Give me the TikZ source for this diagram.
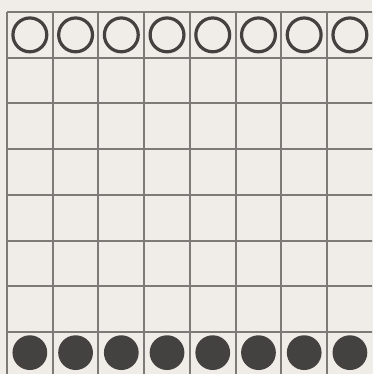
\documentclass[tikz,border=0pt]{standalone}
\usepackage{tikz}
\usetikzlibrary{backgrounds}
\definecolor{paperwhite}{RGB}{240,237,232}
\definecolor{gridgray}{RGB}{125,123,120}
\definecolor{stoneblack}{RGB}{68,66,64}

\begin{document}
\begin{tikzpicture}[
  x=1cm, y=1cm,
  gridline/.style={draw=gridgray, line width=1.2pt},
  whitestone/.style={circle, draw=stoneblack, line width=2pt, fill=paperwhite,
                     minimum size=7.4mm, inner sep=0pt},
  blackstone/.style={circle, fill=stoneblack, minimum size=7.6mm, inner sep=0pt}
]
% frame of the picture, grid cut at right and bottom
\fill[paperwhite] (-0.153,0.083) rectangle (7.987,8.263);
\useasboundingbox (-0.153,0.083) rectangle (7.987,8.263);
\clip (-0.153,0.083) rectangle (7.987,8.263);

\foreach \i in {0,...,8}{
  \draw[gridline] (\i,0) -- (\i,8);
  \draw[gridline] (0,\i) -- (8,\i);
}

\foreach \i in {1,...,8}{
  \node[whitestone] (w\i) at (\i-0.5,7.5) {};
  \node[blackstone] (b\i) at (\i-0.5,0.55) {};
}
\end{tikzpicture}
\end{document}
